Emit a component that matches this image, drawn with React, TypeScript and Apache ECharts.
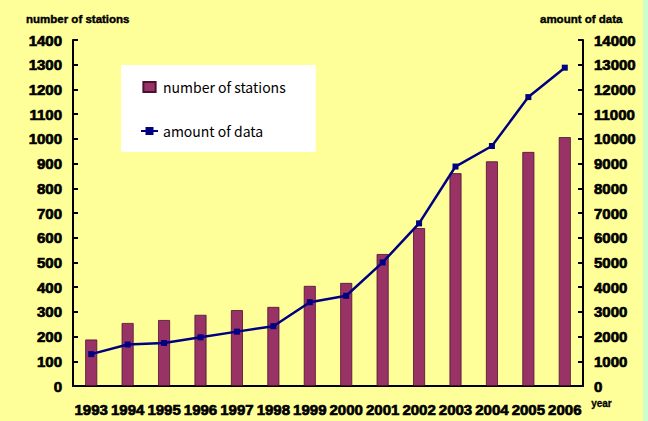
import React, { useEffect, useRef } from "react";
import * as echarts from "echarts";

const years = ["1993", "1994", "1995", "1996", "1997", "1998", "1999", "2000", "2001", "2002", "2003", "2004", "2005", "2006"];
const stations = [188, 255, 267, 288, 307, 320, 405, 417, 534, 639, 861, 909, 947, 1007];
const amountOfData = [1290, 1680, 1740, 1970, 2200, 2420, 3390, 3650, 5000, 6580, 8880, 9710, 11690, 12880];
const leftTicks = { min: 0, max: 1400, interval: 100 };
const rightTicks = { min: 0, max: 14000, interval: 1000 };

const axisFont = "'Liberation Sans', Arial, sans-serif";

export default function App() {
  const ref = useRef<HTMLDivElement>(null);
  useEffect(() => {
    const chart = echarts.init(ref.current!, null, { renderer: "svg" });
    const labelStyle = {
      color: "#000",
      fontFamily: axisFont,
      fontWeight: "bold" as const,
      fontSize: 15,
      textBorderColor: "#000",
      textBorderWidth: 0.7,
    };
    const plain = (v: number) => String(v);
    chart.setOption({
      animation: false,
      backgroundColor: "#FFFF99",
      title: [
        {
          text: "number of stations",
          left: 21,
          top: 8,
          textStyle: { ...labelStyle, fontSize: 11.5, textBorderWidth: 0.4 },
        },
        {
          text: "amount of data",
          left: 535,
          top: 8,
          textStyle: { ...labelStyle, fontSize: 11.5, textBorderWidth: 0.4 },
        },
      ],
      graphic: [
        { type: "rect", right: 0, top: 0, shape: { width: 5, height: 421 }, style: { fill: "#CCFFCC" } },
        {
          type: "text",
          left: 591,
          top: 398,
          style: { text: "year", fill: "#000", font: `bold 10px ${axisFont}`, stroke: "#000", lineWidth: 0.3 },
        },
      ],
      legend: {
        orient: "vertical",
        left: 121,
        top: 65,
        width: 184,
        height: 87,
        backgroundColor: "#FFFFFF",
        padding: [15, 30, 14, 19],
        itemGap: 30,
        itemWidth: 17,
        itemHeight: 10,
        textStyle: { color: "#000", fontFamily: "'Noto Sans CJK JP', 'Noto Sans', sans-serif", fontSize: 14 },
        data: [
          { name: "number of stations", icon: "path://M0,0 L11,0 L11,9 L0,9 Z" },
          { name: "amount of data" },
        ],
      },
      grid: { left: 73, right: 65, top: 40, bottom: 35, containLabel: false },
      xAxis: {
        type: "category",
        data: years,
        axisLine: { lineStyle: { color: "#000", width: 2 } },
        axisTick: { inside: true, length: 6, lineStyle: { color: "#000", width: 2 } },
        axisLabel: { ...labelStyle, margin: 16, interval: 0 },
      },
      yAxis: [
        {
          type: "value",
          ...leftTicks,
          position: "left",
          axisLine: { show: true, lineStyle: { color: "#000", width: 2 } },
          axisTick: { show: true, inside: true, length: 5, lineStyle: { color: "#000", width: 2 } },
          axisLabel: { ...labelStyle, margin: 11, formatter: plain },
          splitLine: { show: false },
        },
        {
          type: "value",
          ...rightTicks,
          position: "right",
          axisLine: { show: true, lineStyle: { color: "#000", width: 2 } },
          axisTick: { show: true, inside: true, length: 5, lineStyle: { color: "#000", width: 2 } },
          axisLabel: { ...labelStyle, margin: 11, formatter: plain },
          splitLine: { show: false },
        },
      ],
      series: [
        {
          name: "number of stations",
          type: "bar",
          yAxisIndex: 0,
          data: stations,
          barWidth: 12,
          itemStyle: { color: "#993366", borderColor: "#4A1030", borderWidth: 0.8 },
        },
        {
          name: "amount of data",
          type: "line",
          yAxisIndex: 1,
          data: amountOfData,
          symbol: "rect",
          symbolSize: 6,
          lineStyle: { color: "#000080", width: 2.5 },
          itemStyle: { color: "#000080" },
        },
      ],
    });
    return () => chart.dispose();
  }, []);
  return <div ref={ref} style={{ width: 648, height: 421, position: "absolute", left: 0, top: 0 }} />;
}
